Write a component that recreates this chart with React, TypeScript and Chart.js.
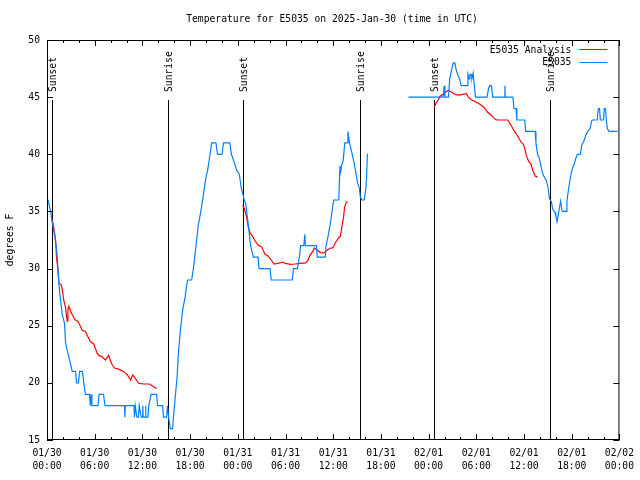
import React, { useEffect, useRef } from 'react';
import { Chart, registerables } from 'chart.js';

Chart.register(...registerables);

const TITLE = 'Temperature for E5035 on 2025-Jan-30 (time in UTC)';
const Y_LABEL = 'degrees F';
const SERIES_NAMES = ['E5035 Analysis', 'E5035'];
const SERIES_COLORS = ['#ff0000', '#0080ff'];

const xTickDates = ['01/30', '01/30', '01/30', '01/30', '01/31', '01/31', '01/31', '01/31', '02/01', '02/01', '02/01', '02/01', '02/02'];
const xTickTimes = ['00:00', '06:00', '12:00', '18:00', '00:00', '06:00', '12:00', '18:00', '00:00', '06:00', '12:00', '18:00', '00:00'];

const sunHours = [0.66, 15.28, 24.7, 39.38, 48.71, 63.27];
const sunLabels = ['Sunset', 'Sunrise', 'Sunset', 'Sunrise', 'Sunset', 'Sunrise'];

// Observations (hours since 01/30 00:00 UTC, degrees F); null = gap
const obsHours = [
  0.0, 0.13, 0.46, 0.67, 1.08, 1.29, 1.5, 1.71, 1.92, 2.2, 2.33, 2.63, 2.88, 3.17, 3.6, 3.7, 3.95, 4.1, 4.45, 4.63,
  4.84, 5.35, 5.45, 5.55, 5.65, 6.4, 6.55, 7.1, 7.3, 9.75, 9.8, 9.85, 10.95, 11.0, 11.1, 11.3, 11.5, 11.6, 11.85, 12.0,
  12.05, 12.1, 12.35, 12.4, 12.45, 12.7, 12.8, 13.1, 13.8, 13.9, 14.55, 14.65, 15.05, 15.15, 15.3, 15.5, 15.8, 15.9, 16.1, 16.36,
  16.53, 16.78, 17.07, 17.37, 17.6, 17.7, 18.2, 18.45, 18.74, 19.03, 19.37, 19.7, 20.0, 20.2, 20.4, 20.6, 20.7, 21.25, 21.45, 22.0,
  22.2, 23.0, 23.2, 23.6, 23.85, 24.17, 24.45, 24.65, 24.8, 25.0, 25.2, 25.4, 25.6, 25.96, 26.55, 26.67, 28.05, 28.2, 30.84, 31.0,
  31.5, 31.75, 31.9, 32.3, 32.43, 32.5, 33.9, 34.0, 35.0, 35.1, 35.4, 35.65, 35.85, 36.06, 36.7, 36.85, 36.95, 37.05, 37.25, 37.45,
  37.75, 37.85, 37.95, 38.05, 38.36, 38.55, 38.8, 39.07, 39.3, 39.4, 39.6, 39.9, 40.1, 40.2, 40.3, 40.4,
  42.0,
  45.45, 49.85, 49.95, 50.05, 50.5, 50.65, 50.9, 51.1, 51.3, 51.5, 51.7, 51.9, 52.1, 52.85, 52.95, 53.1, 53.2, 53.35, 53.45, 53.6,
  53.75, 53.9, 55.35, 55.55, 55.7, 55.9, 56.05, 57.55, 57.6, 57.65, 58.6, 58.75, 59.0, 59.1, 60.1, 60.2, 61.4, 61.5, 61.7, 61.9,
  62.15, 62.4, 62.8, 63.0, 63.2, 63.45, 63.6, 63.9, 64.0, 64.15, 64.3, 64.45, 64.6, 64.75, 64.85, 65.3, 65.4, 65.55, 65.7, 65.9,
  66.1, 66.3, 66.5, 66.7, 67.1, 67.25, 67.5, 67.8, 68.1, 68.3, 68.5, 68.6, 69.2, 69.35, 69.5, 69.6, 70.0, 70.1, 70.25, 70.35,
  70.5, 70.7, 71.75,
];
const obsTemps = [
  36, 36, 35, 34, 32.5, 31, 28.6, 27.2, 26, 25.2, 23.5, 22.6, 21.9, 21, 21, 20, 20, 21, 21, 20,
  19, 19, 18, 19, 18, 18, 19, 19, 18, 18, 17, 18, 18, 17, 18, 17, 17, 18, 17, 17,
  18, 17, 17, 18, 17, 17, 18, 19, 19, 18, 18, 17, 17, 18, 17, 16, 16, 17, 18.5, 20.5,
  22.6, 24.6, 26.4, 27.5, 28.7, 29, 29, 30.2, 32, 33.8, 35.1, 36.6, 38, 38.6, 39.5, 40.4, 41, 41, 40, 40,
  41, 41, 40, 39.2, 38.6, 38.3, 37, 36.5, 36, 35.7, 34.5, 33.4, 32, 31, 31, 30, 30, 29, 29, 30,
  30, 31, 32, 32, 33, 32, 32, 31, 31, 32, 33, 34, 35, 36, 36, 39, 38.5, 39, 39.4, 41,
  41, 42, 41.5, 41, 40.1, 39.5, 38.6, 37.5, 37, 36.3, 36, 36, 37, 38, 40, 40,
  null,
  45, 45, 46, 45, 45, 46.6, 47.4, 48, 48, 47.3, 46.9, 46.6, 46, 46, 47, 46.6, 47, 47, 46.6, 47.1,
  46, 45, 45, 45.8, 46, 46, 45, 45, 46, 45, 45, 44, 44, 43, 43, 42, 42, 41, 40, 39.7,
  38.9, 38.2, 37.7, 37.2, 36.1, 35.85, 35.2, 34.9, 34.6, 34.1, 34.7, 35.3, 35.9, 35.2, 35, 35, 35.9, 36.7, 37.4, 38.2,
  38.8, 39.1, 39.6, 40, 40, 40.8, 41.1, 41.7, 42.1, 42.2, 42.9, 43, 43, 44, 44, 43, 43, 44, 44, 43,
  42.2, 42, 42,
];

// Analysis (hours, degrees F); null = gap
const anaHours = [
  0.55, 0.75, 0.96, 1.13, 1.2, 1.38, 1.5, 1.79, 1.96, 2.1, 2.33, 2.46, 2.55, 2.63, 2.75, 3.0, 3.3, 3.55, 3.88, 4.13,
  4.42, 4.84, 5.13, 5.47, 5.9, 6.09, 6.3, 6.5, 6.9, 7.35, 7.56, 7.76, 7.95, 8.18, 8.5, 9.0, 9.64, 10.1, 10.4, 10.5,
  10.8, 11.1, 11.5, 12.15, 12.9, 13.3, 13.8,
  19.0,
  24.58, 24.8, 25.1, 25.3, 25.55, 25.8, 26.1, 26.55, 27.0, 27.4, 27.8, 28.2, 28.55, 29.0, 29.6, 30.0, 30.6, 31.2, 31.9, 32.5,
  32.8, 33.1, 33.43, 33.6, 34.0, 34.4, 34.8, 35.23, 35.65, 35.95, 36.27, 36.7, 36.9, 37.1, 37.3, 37.44, 37.65, 37.85,
  43.0,
  48.71, 48.95, 49.2, 49.4, 49.8, 50.25, 50.5, 50.75, 51.2, 51.5, 51.9, 52.3, 52.75, 53.0, 53.4, 53.9, 54.4, 54.8, 55.1, 55.4,
  55.9, 56.3, 56.6, 57.97, 58.4, 58.8, 59.2, 59.6, 59.9, 60.1, 60.3, 60.57, 60.9, 61.1, 61.4, 61.7,
];
const anaTemps = [
  34.4, 34, 33.1, 31.9, 30.9, 29.9, 28.7, 28.6, 28, 27.25, 26.6, 25.8, 25.4, 26.4, 26.7, 26.2, 25.8, 25.5, 25.4, 25.06,
  24.6, 24.5, 24.06, 23.6, 23.4, 23.0, 22.6, 22.4, 22.3, 22.0, 22.2, 22.4, 22.0, 21.6, 21.3, 21.2, 21.0, 20.7, 20.4, 20.25,
  20.7, 20.4, 19.96, 19.9, 19.9, 19.7, 19.5,
  null,
  35.5, 35.3, 34.5, 33.7, 33.1, 32.9, 32.5, 32.06, 31.9, 31.27, 31.1, 30.75, 30.4, 30.45, 30.55, 30.45, 30.37, 30.4, 30.45, 30.5,
  30.7, 31.2, 31.5, 31.8, 31.6, 31.4, 31.35, 31.6, 31.8, 31.8, 32.26, 32.7, 32.8, 33.7, 34.5, 35.4, 35.8, 35.85,
  null,
  44.1, 44.5, 44.75, 45.04, 45.25, 45.5, 45.6, 45.5, 45.3, 45.2, 45.2, 45.25, 45.3, 45.0, 44.75, 44.6, 44.4, 44.2, 44.0, 43.7,
  43.4, 43.1, 43.0, 43.0, 42.5, 42.0, 41.6, 41.1, 40.9, 40.5, 39.9, 39.4, 39.1, 38.6, 38.1, 38.0,
];

const X_MIN = 0;
const X_MAX = 72;
const X_MAJOR = 6;
const X_MINOR = 2;
const Y_MIN = 15;
const Y_MAX = 50;
const Y_STEP = 5;

const FONT_FAMILY = '"DejaVu Sans Mono", monospace';
const FONT_SIZE = 9.7;

const gnuplotPlugin = {
  id: 'gnuplotDecor',
  beforeDatasetsDraw(chart: any) {
    const { ctx, chartArea: a, scales } = chart;
    const xs = scales.x;
    const h = a.bottom - a.top;
    ctx.save();
    ctx.strokeStyle = '#000';
    ctx.fillStyle = '#000';
    ctx.lineWidth = 1;
    ctx.font = `${FONT_SIZE}px ${FONT_FAMILY}`;
    sunHours.forEach((hr, i) => {
      const px = Math.round(xs.getPixelForValue(hr)) + 0.5;
      ctx.beginPath();
      ctx.moveTo(px, a.bottom);
      ctx.lineTo(px, a.bottom - 0.85 * h);
      ctx.stroke();
      ctx.save();
      ctx.translate(px + 1, a.bottom - 0.87 * h);
      ctx.rotate(-Math.PI / 2);
      ctx.textAlign = 'left';
      ctx.textBaseline = 'middle';
      ctx.fillText(sunLabels[i], 0, 0);
      ctx.restore();
    });
    ctx.restore();
  },
  afterDraw(chart: any) {
    const { ctx, chartArea: a, scales } = chart;
    const xs = scales.x;
    const ys = scales.y;
    ctx.save();
    ctx.strokeStyle = '#000';
    ctx.fillStyle = '#000';
    ctx.lineWidth = 1;
    // frame
    ctx.strokeRect(a.left + 0.5, a.top + 0.5, a.right - a.left - 1, a.bottom - a.top - 1);
    // x ticks (inward, mirrored)
    ctx.beginPath();
    for (let v = X_MIN; v <= X_MAX + 1e-9; v += X_MINOR) {
      const px = Math.round(xs.getPixelForValue(v)) + 0.5;
      const len = Math.abs(v % X_MAJOR) < 1e-9 ? 6 : 3;
      ctx.moveTo(px, a.bottom);
      ctx.lineTo(px, a.bottom - len);
      ctx.moveTo(px, a.top);
      ctx.lineTo(px, a.top + len);
    }
    // y ticks
    for (let v = Y_MIN; v <= Y_MAX + 1e-9; v += Y_STEP) {
      const py = Math.round(ys.getPixelForValue(v)) + 0.5;
      ctx.moveTo(a.left, py);
      ctx.lineTo(a.left + 6, py);
      ctx.moveTo(a.right, py);
      ctx.lineTo(a.right - 6, py);
    }
    ctx.stroke();
    ctx.font = `${FONT_SIZE}px ${FONT_FAMILY}`;
    // title
    ctx.textAlign = 'center';
    ctx.textBaseline = 'middle';
    ctx.fillText(TITLE, 332, 19);
    // y label
    ctx.save();
    ctx.translate(10, (a.top + a.bottom) / 2);
    ctx.rotate(-Math.PI / 2);
    ctx.fillText(Y_LABEL, 0, 0);
    ctx.restore();
    // legend
    ctx.textAlign = 'right';
    SERIES_NAMES.forEach((name, i) => {
      const y = a.top + 10 + i * 12.8;
      ctx.fillStyle = '#000';
      ctx.fillText(name, a.right - 48, y);
      ctx.strokeStyle = SERIES_COLORS[i];
      ctx.beginPath();
      ctx.moveTo(a.right - 40, Math.round(y) - 0.5);
      ctx.lineTo(a.right - 12, Math.round(y) - 0.5);
      ctx.stroke();
    });
    ctx.restore();
  },
};

export default function App() {
  const ref = useRef<HTMLCanvasElement | null>(null);
  useEffect(() => {
    if (!ref.current) return;
    const obsData = obsHours.map((x, i) => ({ x, y: obsTemps[i] }));
    const anaData = anaHours.map((x, i) => ({ x, y: anaTemps[i] }));
    const chart = new Chart(ref.current, {
      type: 'line',
      data: {
        datasets: [
          {
            label: SERIES_NAMES[1],
            data: obsData as any,
            borderColor: SERIES_COLORS[1],
            borderWidth: 1.2,
            pointRadius: 0,
            spanGaps: false,
            tension: 0,
          },
          {
            label: SERIES_NAMES[0],
            data: anaData as any,
            borderColor: SERIES_COLORS[0],
            borderWidth: 1.2,
            pointRadius: 0,
            spanGaps: false,
            tension: 0,
          },
        ],
      },
      options: {
        animation: false,
        responsive: false,
        events: [],
        layout: { padding: { top: 40, right: 18, left: 0, bottom: 0 } },
        plugins: { legend: { display: false }, tooltip: { enabled: false }, title: { display: false } },
        scales: {
          x: {
            type: 'linear',
            min: X_MIN,
            max: X_MAX,
            afterFit: (s: any) => { s.height = 40; },
            afterBuildTicks: (s: any) => {
              s.ticks = xTickDates.map((_, i) => ({ value: X_MIN + i * X_MAJOR }));
            },
            grid: { display: false, drawTicks: false },
            border: { display: false },
            ticks: {
              autoSkip: false,
              maxRotation: 0,
              padding: 6,
              color: '#000',
              font: { family: FONT_FAMILY, size: FONT_SIZE, lineHeight: 1.44 },
              callback: (_v: any, i: number) => [xTickDates[i], xTickTimes[i]],
            },
          },
          y: {
            type: 'linear',
            min: Y_MIN,
            max: Y_MAX,
            afterFit: (s: any) => { s.width = 47; },
            grid: { display: false, drawTicks: false },
            border: { display: false },
            ticks: {
              stepSize: Y_STEP,
              padding: 7,
              color: '#000',
              font: { family: FONT_FAMILY, size: FONT_SIZE },
            },
          },
        },
      },
      plugins: [gnuplotPlugin],
    });
    return () => chart.destroy();
  }, []);
  return (
    <div style={{ position: 'fixed', left: 0, top: 0, width: 640, height: 480, background: '#fff' }}>
      <canvas ref={ref} width={640} height={480} style={{ display: 'block' }} />
    </div>
  );
}
